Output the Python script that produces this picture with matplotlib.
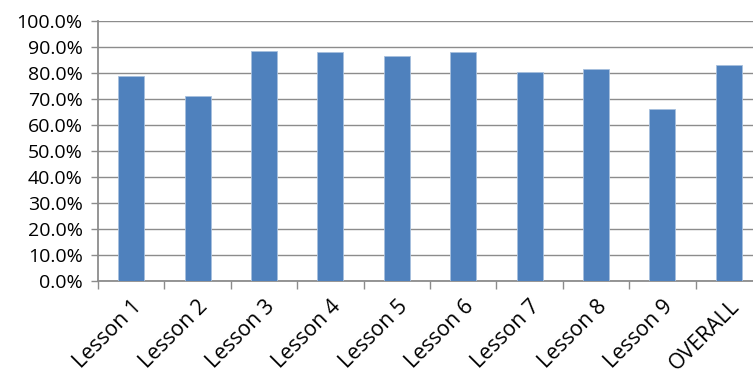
import matplotlib.pyplot as plt
from matplotlib.ticker import PercentFormatter, MultipleLocator
import numpy as np

categories = ["Lesson 1", "Lesson 2", "Lesson 3", "Lesson 4", "Lesson 5",
              "Lesson 6", "Lesson 7", "Lesson 8", "Lesson 9", "OVERALL"]
scores = [78.8, 71.2, 88.6, 88.1, 86.5, 88.2, 80.4, 81.4, 66.2, 82.9]

plt.rcParams['font.family'] = ['Open Sans', 'DejaVu Sans']

fig = plt.figure(figsize=(7.53, 3.77), dpi=100)
ax = fig.add_axes([98/753, 1 - 280.5/377, 664/753, 259.5/377])

x = np.arange(len(categories))
ax.bar(x, scores, width=0.39, color='#4F81BD', edgecolor='#A7C0DE',
       linewidth=0.6, zorder=3)

ax.set_xlim(-0.5, len(categories) - 0.5)
ax.set_ylim(0, 100)
ax.yaxis.set_major_locator(MultipleLocator(10))
ax.yaxis.set_major_formatter(PercentFormatter(decimals=1))
ax.grid(axis='y', color='#8C8C8C', linewidth=1.0, zorder=0)

# category boundary ticks on x
ax.set_xticks(np.arange(len(categories) + 1) - 0.5)
ax.set_xticklabels([])
ax.set_xticks(x, minor=True)
ax.set_xticklabels(categories, minor=True, rotation=45, ha='right',
                   va='top', rotation_mode='anchor', fontsize=15.3)
ax.tick_params(axis='x', which='major', length=6, color='#8C8C8C', width=1)
ax.tick_params(axis='x', which='minor', length=0, pad=11)
ax.tick_params(axis='y', length=5, color='#8C8C8C', width=1, labelsize=14,
               pad=6)

for s in ['top', 'right']:
    ax.spines[s].set_visible(False)
for s in ['left', 'bottom']:
    ax.spines[s].set_color('#8C8C8C')
    ax.spines[s].set_linewidth(1.3)

plt.savefig('out.png', dpi=100)
